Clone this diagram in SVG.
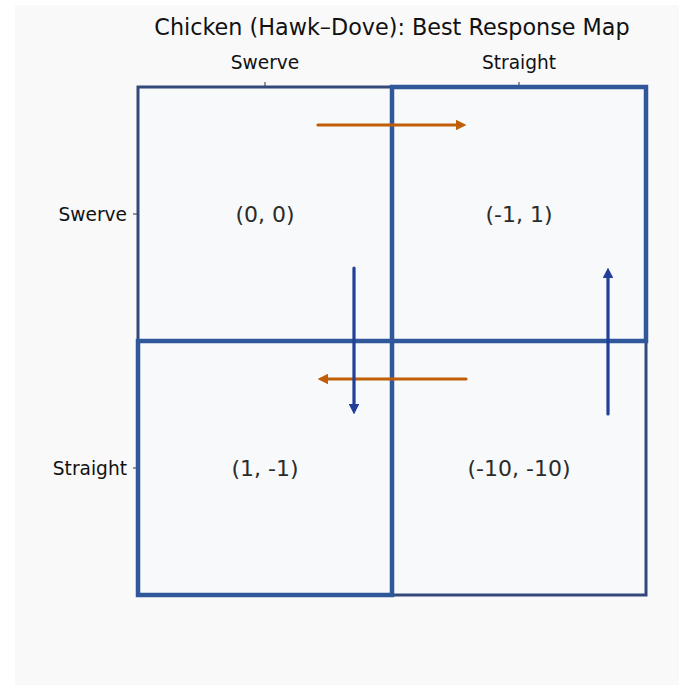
<svg xmlns="http://www.w3.org/2000/svg" width="679" height="685" viewBox="0 0 679 685">
  <style>
    text { font-family: "DejaVu Sans", "Liberation Sans", sans-serif; }
    .title { font-size: 22.3px; fill: #111; text-anchor: middle; }
    .tick-label { font-size: 18.6px; fill: #111; }
    .payoff { font-size: 22px; fill: #2b2b2b; text-anchor: middle; }
    .tick { stroke: #333; stroke-width: 1; }
    .cell { fill: #f7f9fb; }
    .cell-plain { stroke: #34497a; stroke-width: 3; }
    .cell-ne { stroke: #2f579a; stroke-width: 4.5; }
    .br-row { stroke: #bf5e06; stroke-width: 3.2; stroke-linecap: round; fill: none; }
    .br-col { stroke: #213f99; stroke-width: 3.2; stroke-linecap: round; fill: none; }
  </style>
  <defs>
    <marker id="head-orange" viewBox="0 0 10 10" refX="5" refY="5" markerWidth="3.4" markerHeight="3.4" orient="auto" markerUnits="strokeWidth">
      <path d="M0,0 L10,5 L0,10 z" fill="#bf5e06"/>
    </marker>
    <marker id="head-blue" viewBox="0 0 10 10" refX="5" refY="5" markerWidth="3.4" markerHeight="3.4" orient="auto" markerUnits="strokeWidth">
      <path d="M0,0 L10,5 L0,10 z" fill="#213f99"/>
    </marker>
  </defs>

  <rect x="0" y="0" width="679" height="685" fill="#ffffff"/>
  <rect x="15" y="5" width="664" height="680" fill="#f9f9f9"/>

  <text class="title" x="392" y="35">Chicken (Hawk–Dove): Best Response Map</text>

  <!-- axis ticks and labels -->
  <g id="axes">
    <line class="tick" x1="265" y1="82" x2="265" y2="87"/>
    <line class="tick" x1="519" y1="82" x2="519" y2="87"/>
    <line class="tick" x1="133" y1="214" x2="138" y2="214"/>
    <line class="tick" x1="133" y1="468" x2="138" y2="468"/>
    <text class="tick-label" x="265" y="69" text-anchor="middle">Swerve</text>
    <text class="tick-label" x="519" y="69" text-anchor="middle">Straight</text>
    <text class="tick-label" x="127" y="221" text-anchor="end">Swerve</text>
    <text class="tick-label" x="127" y="475" text-anchor="end">Straight</text>
  </g>

  <!-- payoff cells -->
  <g id="cell-swerve-swerve">
    <rect class="cell cell-plain" x="138" y="87" width="254" height="254"/>
    <text class="payoff" x="265" y="222">(0, 0)</text>
  </g>
  <g id="cell-straight-straight">
    <rect class="cell cell-plain" x="392" y="341" width="254" height="254"/>
    <text class="payoff" x="519" y="476">(-10, -10)</text>
  </g>
  <g id="cell-swerve-straight">
    <rect class="cell cell-ne" x="392" y="87" width="254" height="254"/>
    <text class="payoff" x="519" y="222">(-1, 1)</text>
  </g>
  <g id="cell-straight-swerve">
    <rect class="cell cell-ne" x="138" y="341" width="254" height="254"/>
    <text class="payoff" x="265" y="476">(1, -1)</text>
  </g>

  <!-- best-response arrows -->
  <g id="connectors">
    <line class="br-row" x1="318" y1="125" x2="461" y2="125" marker-end="url(#head-orange)"/>
    <line class="br-row" x1="466" y1="379" x2="323" y2="379" marker-end="url(#head-orange)"/>
    <line class="br-col" x1="354" y1="268" x2="354" y2="409" marker-end="url(#head-blue)"/>
    <line class="br-col" x1="608" y1="414" x2="608" y2="273" marker-end="url(#head-blue)"/>
  </g>
</svg>
